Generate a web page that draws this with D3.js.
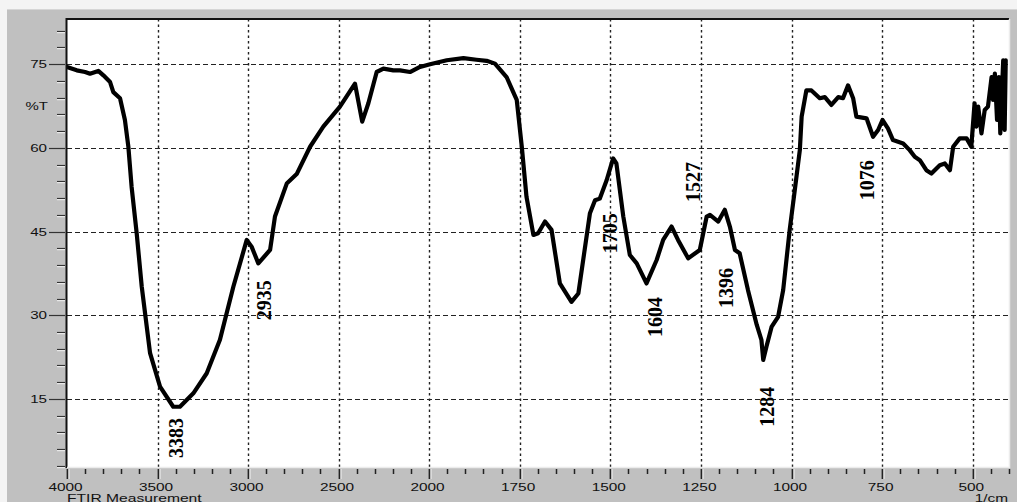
<!DOCTYPE html>
<html>
<head>
<meta charset="utf-8">
<script src="https://cdn.jsdelivr.net/npm/d3@7/dist/d3.min.js"></script>
<style>
  html, body { margin: 0; padding: 0; background: #f4f4f4; }
  svg { display: block; }
  .axis-txt { font-family: "Liberation Sans", Arial, sans-serif; font-size: 11.5px; fill: #111; }
  .peak { font-family: "Liberation Serif", "Times New Roman", serif; font-size: 20px; font-weight: bold; fill: #000; }
</style>
</head>
<body>
<svg id="chart" width="1017" height="502"></svg>
<script>
/* ──────────────────────────────────────────────────────────────
   FTIR spectrum — %T vs wavenumber (1/cm), D3 v7
   ────────────────────────────────────────────────────────────── */

const wavenumber = [
  4000, 3946, 3900, 3873, 3827, 3799, 3762, 3744, 3707, 3680, 3661, 3643, 3615, 3587, 3541, 3486,
  3413, 3376, 3302, 3228, 3155, 3081, 3007, 2980, 2943, 2878, 2851, 2786, 2731, 2657, 2584, 2492,
  2409, 2369, 2335, 2289, 2252, 2197, 2160, 2105, 2050, 1997, 1951, 1905, 1869, 1841, 1818, 1786,
  1758, 1744, 1731, 1712, 1699, 1680, 1662, 1639, 1607, 1588, 1556, 1542, 1529, 1510, 1492, 1483,
  1464, 1446, 1427, 1400, 1372, 1354, 1331, 1313, 1285, 1253, 1234, 1225, 1202, 1184, 1170, 1156,
  1143, 1120, 1096, 1083, 1078, 1069, 1055, 1037, 1023, 1005, 991, 977, 972, 959, 945, 922,
  908, 890, 871, 858, 844, 830, 821, 793, 775, 761, 749, 734, 720, 692, 674, 660,
  646, 628, 614, 591, 577, 563, 554, 536, 517, 504, 495, 490, 485, 476, 467, 458,
  448, 444, 439, 433, 428, 424, 416, 412, 409
];
// transmittance (%T) at each wavenumber above
const transmittance = [
  74.5, 73.9, 73.6, 73.3, 73.8, 73.0, 71.8, 70.0, 68.9, 65.0, 60.2, 53.0, 44.7, 35.1, 23.2, 17.2,
  13.6, 13.6, 16.0, 19.6, 25.6, 35.1, 43.5, 42.3, 39.3, 41.7, 47.7, 53.6, 55.3, 60.2, 63.8, 67.4,
  71.5, 64.7, 68.0, 73.6, 74.2, 73.9, 73.9, 73.6, 74.5, 75.0, 75.7, 76.1, 75.8, 75.6, 75.1, 72.7,
  68.6, 60.2, 51.2, 44.4, 44.7, 46.8, 45.3, 35.7, 32.4, 33.9, 48.3, 50.6, 50.9, 54.2, 58.1, 57.2,
  47.7, 40.8, 39.3, 35.7, 39.9, 43.5, 45.9, 43.5, 40.2, 41.7, 47.7, 48.0, 46.8, 48.9, 45.9, 41.7,
  41.1, 34.5, 28.3, 25.6, 22.0, 24.4, 27.9, 29.7, 34.5, 45.3, 52.4, 59.6, 65.6, 70.3, 70.3, 68.9,
  69.1, 67.7, 69.1, 68.9, 71.2, 68.9, 65.6, 65.3, 62.0, 63.2, 65.0, 63.5, 61.4, 60.8, 59.6, 58.4,
  57.8, 56.0, 55.4, 56.9, 57.2, 56.0, 60.2, 61.7, 61.7, 60.2, 68.0, 63.8, 67.4, 62.6, 66.8, 67.4,
  72.7, 68.6, 73.3, 65.0, 72.7, 62.6, 75.7, 63.2, 75.7
];

// axes
const xMajorTicks = [4000, 3500, 3000, 2500, 2000, 1750, 1500, 1250, 1000, 750, 500];
const yMajorTicks = [15, 30, 45, 60, 75];
const yMinorTicks = d3.range(3, 82, 3);
const xMinorTicks = d3.range(4000, 2000, -100).concat(d3.range(2000, 399, -50));

// peak annotations: label, wavenumber where it sits, %T at its lower end
const peakLabels = ["3383", "2935", "1705", "1527", "1604", "1396", "1284", "1076"];
const peakX      = [3398, 2912, 1501, 1271, 1377, 1180, 1067, 791];
const peakY      = [4.4, 29.1, 41.1, 50.3, 26.1, 31.3, 10.0, 50.6];

(function () {
  const L = 67, R = 1009, T = 19, B = 467;

  const svg = d3.select("#chart");

  // below 2000 1/cm the axis is stretched x2 (Shimadzu style)
  const x = d3.scaleLinear().domain([4000, 2000, 400]).range([L, 429, R]);
  const y = d3.scaleLinear().domain([2.8, 83.1]).range([B, T]);

  /* ── frame ─────────────────────────────────────────────────── */
  svg.append("rect").attr("width", 1017).attr("height", 502).attr("fill", "#f4f4f4");
  svg.append("rect").attr("x", 7).attr("y", 9).attr("width", 1012).attr("height", 495)
    .attr("fill", "#c0c0c0");
  svg.append("line").attr("x1", 7).attr("x2", 1017).attr("y1", 9.5).attr("y2", 9.5)
    .attr("stroke", "#d6d6d6");
  svg.append("rect").attr("x", L).attr("y", T).attr("width", R - L).attr("height", B - T)
    .attr("fill", "#fff");

  svg.append("defs").append("clipPath").attr("id", "plot")
    .append("rect").attr("x", L).attr("y", T).attr("width", R - L).attr("height", B - T);

  /* ── grid ──────────────────────────────────────────────────── */
  const grid = svg.append("g").attr("clip-path", "url(#plot)");
  grid.selectAll("line.h").data(yMajorTicks).join("line")
    .attr("x1", L).attr("x2", R)
    .attr("y1", d => Math.round(y(d)) + 0.5).attr("y2", d => Math.round(y(d)) + 0.5)
    .attr("stroke", "#222").attr("stroke-width", 1.1).attr("stroke-dasharray", "5,3");
  grid.selectAll("line.v").data(xMajorTicks.filter(d => d !== 4000)).join("line")
    .attr("x1", d => Math.round(x(d)) + 0.5).attr("x2", d => Math.round(x(d)) + 0.5)
    .attr("y1", T).attr("y2", B)
    .attr("stroke", "#222").attr("stroke-width", 1.4).attr("stroke-dasharray", "2.5,3");

  /* ── spectrum ──────────────────────────────────────────────── */
  const pts = wavenumber.map((w, i) => [w, transmittance[i]]);
  const line = d3.line().x(d => x(d[0])).y(d => y(d[1]));
  svg.append("path").datum(pts)
    .attr("clip-path", "url(#plot)")
    .attr("d", line)
    .attr("fill", "none").attr("stroke", "#000")
    .attr("stroke-width", 4.2).attr("stroke-linejoin", "round").attr("stroke-linecap", "round");

  /* ── plot borders (sunken look) ────────────────────────────── */
  svg.append("line").attr("x1", L - 1).attr("x2", R).attr("y1", T).attr("y2", T)
    .attr("stroke", "#111").attr("stroke-width", 2);
  svg.append("line").attr("x1", L - 0.5).attr("x2", L - 0.5).attr("y1", T - 1).attr("y2", B + 1)
    .attr("stroke", "#111").attr("stroke-width", 2);
  svg.append("line").attr("x1", L).attr("x2", R + 1).attr("y1", B + 0.5).attr("y2", B + 0.5)
    .attr("stroke", "#ececec").attr("stroke-width", 1.5);
  svg.append("line").attr("x1", R + 0.5).attr("x2", R + 0.5).attr("y1", T).attr("y2", B + 1)
    .attr("stroke", "#ececec").attr("stroke-width", 1.5);

  /* ── y axis ────────────────────────────────────────────────── */
  const ya = svg.append("g");
  const yMinorOnly = yMinorTicks.filter(d => !yMajorTicks.includes(d));
  ya.selectAll("line.mn").data(yMinorOnly).join("line")
    .attr("x1", 57).attr("x2", 65)
    .attr("y1", d => Math.round(y(d)) + 0.5).attr("y2", d => Math.round(y(d)) + 0.5)
    .attr("stroke", "#333").attr("stroke-width", 1.2);
  ya.selectAll("line.mns").data(yMinorOnly).join("line")
    .attr("x1", 57).attr("x2", 65)
    .attr("y1", d => Math.round(y(d)) + 1.7).attr("y2", d => Math.round(y(d)) + 1.7)
    .attr("stroke", "#f4f4f4").attr("stroke-width", 1);
  ya.selectAll("line.mj").data(yMajorTicks).join("line")
    .attr("x1", 49).attr("x2", 65)
    .attr("y1", d => Math.round(y(d)) + 0.5).attr("y2", d => Math.round(y(d)) + 0.5)
    .attr("stroke", "#333").attr("stroke-width", 1.2);
  ya.selectAll("text").data(yMajorTicks).join("text")
    .attr("class", "axis-txt")
    .attr("text-anchor", "end")
    .attr("transform", d => `translate(47,${y(d) + 4.2}) scale(1.32,1)`)
    .text(d => d);
  ya.append("text").attr("class", "axis-txt").attr("text-anchor", "end")
    .attr("transform", `translate(48,${y(67.5) + 4.2}) scale(1.3,1)`)
    .text("%T");

  /* ── x axis ────────────────────────────────────────────────── */
  const xa = svg.append("g");
  xa.selectAll("line.mn").data(xMinorTicks.filter(d => !xMajorTicks.includes(d))).join("line")
    .attr("x1", d => Math.round(x(d)) + 0.5).attr("x2", d => Math.round(x(d)) + 0.5)
    .attr("y1", B + 2).attr("y2", B + 7)
    .attr("stroke", "#222").attr("stroke-width", 1.5);
  xa.selectAll("line.mj").data(xMajorTicks).join("line")
    .attr("x1", d => Math.round(x(d)) + 0.5).attr("x2", d => Math.round(x(d)) + 0.5)
    .attr("y1", B + 2).attr("y2", B + 12)
    .attr("stroke", "#222").attr("stroke-width", 1.8);
  xa.selectAll("line.mjs").data(xMajorTicks).join("line")
    .attr("x1", d => Math.round(x(d)) + 2).attr("x2", d => Math.round(x(d)) + 2)
    .attr("y1", B + 2).attr("y2", B + 12)
    .attr("stroke", "#f4f4f4").attr("stroke-width", 1);
  xa.selectAll("text").data(xMajorTicks).join("text")
    .attr("class", "axis-txt")
    .attr("text-anchor", "middle")
    .attr("transform", d => `translate(${x(d) - 1.5},${B + 23.5}) scale(1.34,1)`)
    .text(d => d);
  xa.append("text").attr("class", "axis-txt").attr("text-anchor", "start")
    .attr("transform", `translate(${L},${B + 34.5}) scale(1.36,1)`)
    .text("FTIR Measurement");
  xa.append("text").attr("class", "axis-txt").attr("text-anchor", "end")
    .attr("transform", `translate(${R - 1},${B + 34.5}) scale(1.34,1)`)
    .text("1/cm");

  /* ── peak labels ───────────────────────────────────────────── */
  svg.append("g").selectAll("text").data(peakLabels).join("text")
    .attr("class", "peak")
    .attr("transform", (d, i) => `translate(${x(peakX[i])},${y(peakY[i])}) rotate(-90)`)
    .attr("dy", "0.35em")
    .text(d => d);
})();
</script>
</body>
</html>
